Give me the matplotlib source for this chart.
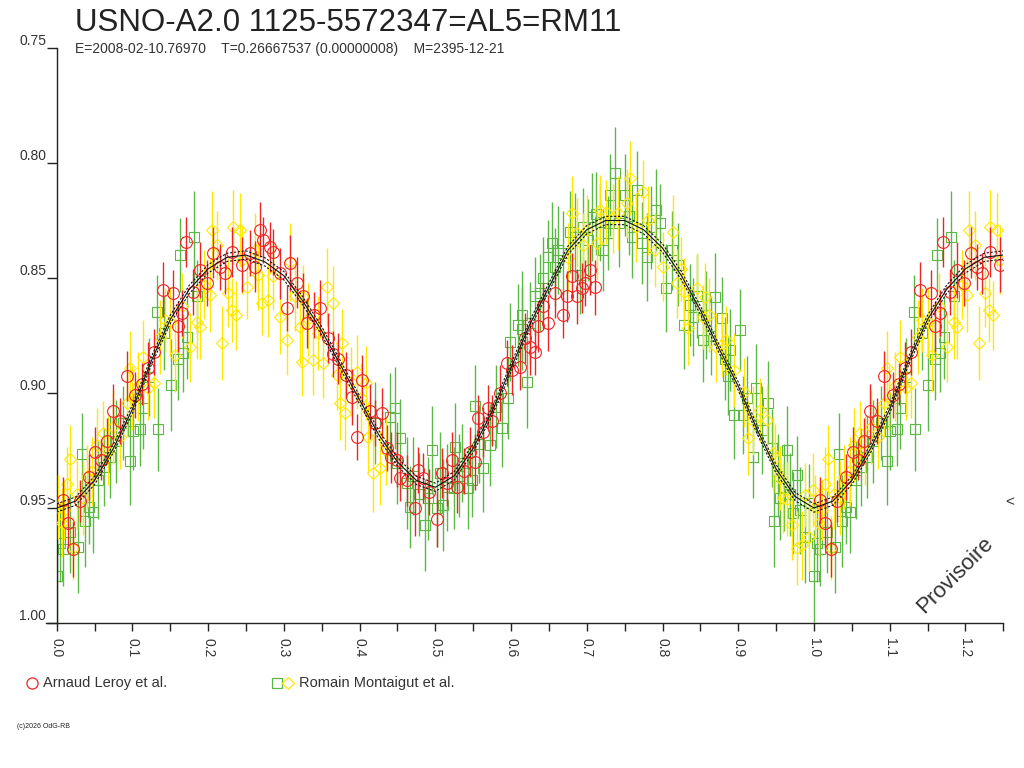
import numpy as np
import matplotlib
matplotlib.use("Agg")
from matplotlib import pyplot as plt
from matplotlib.lines import Line2D

plt.rcParams['font.family'] = ['Liberation Sans', 'DejaVu Sans']

title = "USNO-A2.0 1125-5572347=AL5=RM11"
subtitle = "E=2008-02-10.76970    T=0.26667537 (0.00000008)    M=2395-12-21"
observers = ["Arnaud Leroy et al.", "Romain Montaigut et al."]

# fitted light curve, one cycle (phase, mag)
fit_phase = [0.000, 0.025, 0.050, 0.075, 0.100, 0.125, 0.150, 0.175, 0.200, 0.225,
             0.250, 0.275, 0.300, 0.325, 0.350, 0.375, 0.400, 0.425, 0.450, 0.475,
             0.500, 0.525, 0.550, 0.575, 0.600, 0.625, 0.650, 0.675, 0.700, 0.725,
             0.750, 0.775, 0.800, 0.825, 0.850, 0.875, 0.900, 0.925, 0.950, 0.975, 1.000]
fit_mag = [0.950, 0.947, 0.938, 0.924, 0.907, 0.886, 0.868, 0.855, 0.846, 0.841,
           0.840, 0.843, 0.849, 0.860, 0.873, 0.888, 0.903, 0.918, 0.930, 0.938,
           0.941, 0.936, 0.924, 0.908, 0.889, 0.870, 0.854, 0.838, 0.829, 0.825,
           0.825, 0.829, 0.837, 0.849, 0.864, 0.881, 0.897, 0.916, 0.933, 0.945, 0.950]

# (phase, mag, err)
leroy = [
    (.008, .9465, .010), (.015, .9565, .011), (.022, .968, .012), (.031, .947, .009),
    (.042, .9365, .010), (.051, .9257, .011), (.058, .929, .009), (.066, .921, .010),
    (.074, .908, .012), (.083, .912, .010), (.093, .8926, .011), (.104, .901, .010),
    (.112, .896, .009), (.120, .889, .011), (.128, .882, .010), (.140, .855, .012),
    (.154, .8565, .010), (.160, .871, .011), (.166, .865, .010), (.171, .8343, .011),
    (.180, .856, .010), (.189, .8465, .012), (.198, .852, .010), (.207, .839, .011),
    (.215, .845, .010), (.222, .848, .009), (.232, .8387, .011), (.245, .8443, .012),
    (.255, .839, .010), (.262, .845, .011), (.269, .829, .012), (.273, .8335, .010),
    (.282, .8365, .011), (.286, .8387, .010), (.295, .848, .011), (.304, .863, .010),
    (.308, .8435, .012), (.317, .852, .011), (.325, .858, .010), (.330, .8696, .011),
    (.340, .866, .010), (.348, .863, .012), (.358, .876, .011), (.365, .883, .010),
    (.372, .885, .011), (.382, .892, .010), (.390, .9017, .012), (.396, .919, .010),
    (.403, .8943, .011), (.414, .908, .012), (.420, .913, .010), (.429, .9087, .011),
    (.436, .924, .010), (.442, .928, .011), (.449, .929, .012), (.453, .937, .010),
    (.462, .938, .011), (.473, .950, .012), (.477, .9335, .010), (.484, .937, .011),
    (.492, .943, .010), (.502, .9548, .012), (.509, .9348, .011), (.515, .939, .010),
    (.522, .929, .012), (.528, .941, .011), (.538, .934, .010), (.546, .9257, .011),
    (.552, .930, .012), (.556, .911, .010), (.563, .917, .011), (.569, .9065, .010),
    (.575, .912, .011), (.585, .900, .012), (.594, .887, .010), (.601, .890, .011),
    (.612, .8887, .010), (.618, .876, .011), (.625, .880, .012), (.632, .882, .010),
    (.636, .871, .011), (.642, .862, .010), (.649, .8696, .012), (.658, .8565, .011),
    (.668, .866, .010), (.674, .858, .011), (.680, .849, .010), (.687, .858, .012),
    (.694, .8543, .011), (.698, .852, .010), (.704, .8465, .011), (.711, .854, .012),
]

montaigut_sq = [
    (.000, .9796, .020), (.004, .965, .017), (.008, .968, .016), (.017, .9604, .018),
    (.028, .967, .020), (.033, .9265, .018), (.037, .9557, .020), (.042, .9496, .016),
    (.048, .9517, .018), (.055, .9378, .017), (.062, .932, .017), (.070, .9278, .018),
    (.078, .921, .018), (.088, .913, .016), (.097, .9296, .019), (.101, .9165, .017),
    (.110, .9157, .016), (.114, .9065, .018), (.122, .893, .017), (.132, .8648, .016),
    (.134, .9157, .018), (.142, .874, .016), (.151, .8965, .020), (.160, .885, .018),
    (.163, .840, .016), (.167, .8826, .017), (.172, .8757, .018), (.181, .832, .020),
    (.185, .858, .016), (.420, .913, .018), (.440, .9104, .019), (.447, .9065, .018),
    (.449, .9304, .018), (.453, .9196, .017), (.462, .939, .020), (.466, .9496, .018),
    (.470, .936, .017), (.478, .944, .018), (.486, .9574, .020), (.490, .9457, .018),
    (.495, .9248, .019), (.502, .950, .017), (.506, .9348, .018), (.510, .9487, .020),
    (.516, .941, .019), (.524, .9413, .018), (.526, .9235, .019), (.531, .936, .018),
    (.535, .9304, .017), (.543, .9413, .018), (.548, .9378, .016), (.552, .9057, .018),
    (.557, .922, .017), (.563, .9326, .019), (.572, .9226, .018), (.580, .906, .018),
    (.588, .9152, .017), (.596, .9022, .018), (.599, .8778, .017), (.609, .8704, .018),
    (.614, .866, .019), (.615, .872, .018), (.621, .8952, .020), (.625, .8696, .018),
    (.632, .858, .017), (.638, .8565, .017), (.642, .850, .018), (.649, .8409, .016),
    (.654, .8348, .018), (.658, .8452, .017), (.662, .8378, .019), (.668, .839, .018),
    (.678, .830, .018), (.685, .832, .019), (.691, .8487, .017), (.695, .828, .017),
    (.702, .8335, .018), (.707, .8235, .019), (.712, .822, .018), (.717, .8257, .017),
    (.721, .8378, .018), (.728, .8304, .016), (.730, .8139, .018), (.737, .8043, .020),
    (.742, .826, .019), (.750, .8139, .018), (.756, .823, .017), (.760, .832, .018),
    (.766, .8117, .017), (.773, .8348, .018), (.779, .8409, .019), (.785, .828, .018),
    (.792, .8204, .018), (.797, .8261, .017), (.805, .8543, .019), (.812, .838, .017),
    (.820, .8443, .018), (.829, .8704, .019), (.836, .8617, .018), (.840, .867, .017),
    (.845, .858, .018), (.853, .877, .018), (.858, .866, .019), (.864, .875, .017),
    (.869, .8583, .019), (.878, .8674, .018), (.882, .885, .018), (.886, .8926, .017),
    (.889, .8813, .018), (.895, .9096, .019), (.902, .8726, .018), (.906, .9096, .017),
    (.912, .902, .018), (.919, .9278, .018), (.924, .8978, .019), (.932, .916, .019),
    (.939, .9043, .018), (.944, .924, .017), (.947, .9557, .020), (.952, .936, .018),
    (.955, .9457, .018), (.960, .941, .019), (.964, .9248, .019), (.968, .944, .018),
    (.972, .9522, .018), (.977, .9357, .017), (.981, .951, .019), (.988, .9626, .020),
    (.993, .948, .017),
]

montaigut_dia = [
    (.002, .9496, .014), (.007, .9565, .015), (.010, .951, .013), (.014, .9396, .016),
    (.018, .9287, .015), (.022, .9674, .014), (.027, .944, .015), (.035, .9457, .016),
    (.040, .9365, .014), (.047, .934, .015), (.053, .9226, .016), (.061, .9174, .014),
    (.068, .925, .015), (.075, .9148, .016), (.084, .9191, .014), (.093, .9043, .015),
    (.097, .8891, .016), (.099, .9022, .014), (.107, .897, .015), (.114, .8843, .016),
    (.121, .8978, .014), (.128, .8957, .015), (.137, .8757, .016), (.143, .8683, .014),
    (.150, .869, .015), (.156, .8835, .016), (.165, .862, .014), (.176, .880, .015),
    (.185, .8691, .016), (.189, .8713, .014), (.195, .853, .015), (.202, .8574, .016),
    (.205, .8291, .017), (.212, .8357, .015), (.218, .8783, .016), (.226, .8565, .015),
    (.231, .8639, .014), (.233, .8278, .016), (.237, .8661, .015), (.242, .8291, .016),
    (.245, .842, .015), (.251, .8539, .014), (.262, .8378, .016), (.266, .8487, .015),
    (.271, .8609, .014), (.279, .8596, .016), (.285, .849, .015), (.295, .867, .016),
    (.304, .877, .015), (.308, .843, .017), (.315, .858, .015), (.321, .8713, .016),
    (.324, .8865, .015), (.325, .8583, .014), (.332, .868, .016), (.339, .8857, .015),
    (.345, .874, .016), (.352, .887, .015), (.357, .8539, .017), (.365, .8609, .016),
    (.370, .8922, .015), (.374, .9043, .016), (.377, .8783, .015), (.381, .9087, .016),
    (.388, .895, .015), (.396, .8909, .016), (.402, .902, .015), (.409, .8957, .016),
    (.411, .9191, .015), (.418, .9348, .017), (.427, .9326, .016), (.435, .925, .015),
    (.675, .8413, .015), (.680, .8217, .016), (.687, .8304, .015), (.695, .8357, .014),
    (.700, .829, .015), (.713, .8348, .016), (.717, .8204, .015), (.726, .8213, .014),
    (.735, .824, .015), (.741, .8217, .016), (.753, .8174, .015), (.757, .8065, .016),
    (.765, .828, .015), (.774, .8126, .014), (.781, .8248, .015), (.790, .8378, .016),
    (.800, .8452, .015), (.814, .830, .016), (.819, .8522, .015), (.825, .846, .014),
    (.829, .8561, .015), (.834, .8717, .016), (.845, .8543, .015), (.853, .867, .014),
    (.856, .8583, .015), (.862, .8661, .016), (.871, .880, .015), (.878, .879, .014),
    (.884, .877, .015), (.895, .890, .016), (.908, .8996, .015), (.913, .9196, .016),
    (.920, .912, .015), (.929, .9074, .014), (.938, .9117, .015), (.946, .9261, .016),
    (.949, .9283, .015), (.955, .937, .014), (.959, .9457, .015), (.965, .946, .016),
    (.971, .9574, .015), (.977, .9674, .016), (.984, .9661, .015), (.988, .9443, .014),
    (.994, .9626, .015), (.999, .9422, .016),
]

RED = '#ee2424'
GREEN = '#5cb844'
YELLOW = '#ffe800'


def phased(points):
    # repeat the first quarter of the cycle after phase 1
    arr = np.array(points, dtype=float)
    extra = arr[arr[:, 0] < 0.25].copy()
    extra[:, 0] += 1.0
    return np.vstack([arr, extra])


fig = plt.figure(figsize=(10.24, 7.68), dpi=100)
ax = fig.add_axes([56.7 / 1024, 1 - 623 / 768, (1003.3 - 56.7) / 1024, 575 / 768])

g = phased(montaigut_sq)
ax.errorbar(g[:, 0], g[:, 1], yerr=g[:, 2], fmt='s', ms=6.5, mfc='none', mec=GREEN,
            mew=0.8, ecolor=GREEN, elinewidth=1.0, capsize=0, zorder=2)
y = phased(montaigut_dia)
ax.errorbar(y[:, 0], y[:, 1], yerr=y[:, 2], fmt='D', ms=6.0, mfc='none', mec=YELLOW,
            mew=0.8, ecolor=YELLOW, elinewidth=1.0, capsize=0, zorder=3)
r = phased(leroy)
ax.errorbar(r[:, 0], r[:, 1], yerr=r[:, 2], fmt='o', ms=8.5, mfc='none', mec=RED,
            mew=0.8, ecolor=RED, elinewidth=1.0, capsize=0, zorder=4)

fp = np.array(fit_phase)
fm = np.array(fit_mag)
sel = fp <= 0.25
fp = np.concatenate([fp, fp[sel][1:] + 1.0])
fm = np.concatenate([fm, fm[sel][1:]])
ax.plot(fp, fm, '-', color='#111111', lw=0.8, zorder=5)
ax.plot(fp, fm - 0.0018, '--', color='#111111', lw=0.8, dashes=(2, 1.5), zorder=5)
ax.plot(fp, fm + 0.0018, '--', color='#111111', lw=0.8, dashes=(2, 1.5), zorder=5)

ax.set_xlim(0, 1.25)
ax.set_ylim(1.00, 0.75)

ax.spines['top'].set_visible(False)
ax.spines['right'].set_visible(False)
ax.spines['bottom'].set_bounds(-0.0145, 1.25)
for s in ('left', 'bottom'):
    ax.spines[s].set_color('#222222')
    ax.spines[s].set_linewidth(1.0)

ax.set_xticks(np.arange(0, 1.21, 0.1))
ax.set_xticklabels(["%.1f" % v for v in np.arange(0, 1.21, 0.1)])
ax.set_xticks(np.arange(0.05, 1.26, 0.1), minor=True)
ax.tick_params(axis='x', which='both', length=6, width=1, direction='out',
               color='#222222', labelsize=10, labelrotation=270, pad=5,
               labelcolor='#333333')

yt = [0.75, 0.80, 0.85, 0.90, 0.95, 1.00]
ax.set_yticks(yt)
ax.set_yticklabels(["%.2f" % v for v in yt])
ax.tick_params(axis='y', length=7.5, width=1, direction='out', color='#222222',
               labelsize=10, pad=0, labelcolor='#333333')
for lab in ax.get_yticklabels():
    lab.set_verticalalignment('bottom')

# level markers on both sides
ax.text(-0.0015, 0.9475, '>', ha='right', va='center', fontsize=11, color='#333333',
        clip_on=False)
ax.text(1.252, 0.9475, '<', ha='left', va='center', fontsize=11, color='#333333',
        clip_on=False)

fig.text(75 / 1024, 1 - 31 / 768, title, fontsize=22.5, color='#222222', va='baseline')
fig.text(75 / 1024, 1 - 53 / 768, subtitle, fontsize=10, color='#333333', va='baseline')

fig.text(955 / 1024, 1 - 575 / 768, 'Provisoire', fontsize=16, rotation=45,
         ha='center', va='center', color='#333333')

# legend
fig.add_artist(Line2D([32 / 1024], [1 - 683 / 768], marker='o', ms=8, mfc='none',
                      mec=RED, mew=0.9, transform=fig.transFigure))
fig.text(43 / 1024, 1 - 683 / 768, observers[0], fontsize=10.5, va='center',
         color='#333333')
fig.add_artist(Line2D([277 / 1024], [1 - 683 / 768], marker='s', ms=6.5, mfc='none',
                      mec=GREEN, mew=0.9, transform=fig.transFigure))
fig.add_artist(Line2D([288 / 1024], [1 - 683 / 768], marker='D', ms=6.0, mfc='none',
                      mec=YELLOW, mew=0.9, transform=fig.transFigure))
fig.text(299 / 1024, 1 - 683 / 768, observers[1], fontsize=10.5, va='center',
         color='#333333')

fig.text(17 / 1024, 1 - 726 / 768, '(c)2026 OdG-RB', fontsize=5, va='center',
         color='#222222')

fig.savefig('out.png', dpi=100)
